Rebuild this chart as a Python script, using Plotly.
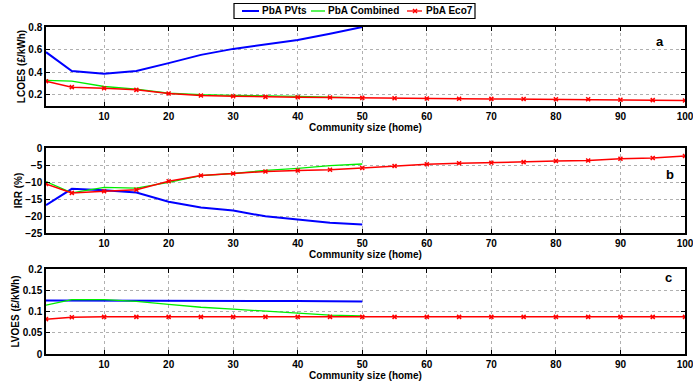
import plotly.graph_objects as go

x_short = [1, 5, 10, 15, 20, 25, 30, 35, 40, 45, 50]
x_long = [1, 5, 10, 15, 20, 25, 30, 35, 40, 45, 50, 55, 60, 65, 70, 75, 80, 85, 90, 95, 100]

# Panel a: LCOES (£/kWh)
lcoes_pvts = [0.577, 0.41, 0.386, 0.41, 0.48, 0.553, 0.606, 0.645, 0.684, 0.74, 0.80]
lcoes_comb = [0.327, 0.32, 0.273, 0.25, 0.213, 0.20, 0.195, 0.187, 0.185, 0.178, 0.172]
lcoes_eco7 = [0.32, 0.267, 0.258, 0.243, 0.211, 0.193, 0.187, 0.181, 0.178, 0.176, 0.172,
              0.169, 0.166, 0.165, 0.163, 0.162, 0.160, 0.159, 0.155, 0.152, 0.149]

# Panel b: IRR (%)
irr_pvts = [-16.8, -12.0, -12.45, -13.1, -15.8, -17.5, -18.4, -20.1, -21.0, -22.0, -22.5]
irr_comb = [-9.9, -13.2, -11.6, -11.8, -10.1, -8.1, -7.5, -6.6, -6.0, -5.2, -4.7]
irr_eco7 = [-10.6, -13.2, -12.7, -12.3, -9.8, -8.1, -7.5, -6.9, -6.6, -6.4, -5.9,
            -5.3, -4.8, -4.5, -4.35, -4.15, -3.85, -3.65, -3.16, -2.96, -2.37]

# Panel c: LVOES (£/kWh)
lvoes_pvts = [0.126, 0.126, 0.126, 0.1258, 0.1256, 0.1254, 0.1252, 0.125, 0.1245, 0.124, 0.1236]
lvoes_comb = [0.115, 0.128, 0.128, 0.1236, 0.117, 0.110, 0.1055, 0.1008, 0.0953, 0.0913, 0.0898]
lvoes_eco7 = [0.082, 0.0866, 0.0874, 0.0874, 0.0874, 0.0874, 0.0874, 0.0874, 0.0874, 0.0874, 0.0874,
              0.0874, 0.0874, 0.0874, 0.0874, 0.0874, 0.0874, 0.0874, 0.0874, 0.0874, 0.0874]

series_names = ["PbA PVts", "PbA Combined", "PbA Eco7"]
panel_labels = ["a", "b", "c"]
x_ticks = [10, 20, 30, 40, 50, 60, 70, 80, 90, 100]
ticks_a = [0.2, 0.4, 0.6, 0.8]
ticks_b = [0, -5, -10, -15, -20, -25]
ticks_c = [0, 0.05, 0.1, 0.15, 0.2]
tick_text_c = ["0", "0.05", "0.1", "0.15", "0.2"]

BLUE = "#0000ff"
GREEN = "#00ee00"
RED = "#ff0000"
COLORS = [BLUE, GREEN, RED]
FONT = "Liberation Sans, Arial, sans-serif"

W, H = 693.0, 381.0
ML, MR = 46.0, 8.0

def px_x(px):
    return (px - ML) / (W - ML - MR)

def px_y(py):
    return 1 - py / H

fig = go.Figure()

panels = [
    ("x", "y", lcoes_pvts, lcoes_comb, lcoes_eco7),
    ("x2", "y2", irr_pvts, irr_comb, irr_eco7),
    ("x3", "y3", lvoes_pvts, lvoes_comb, lvoes_eco7),
]
for i, (xa, ya, pv, cb, e7) in enumerate(panels):
    fig.add_trace(go.Scatter(x=x_short, y=pv, xaxis=xa, yaxis=ya, mode="lines",
                             line=dict(color=BLUE, width=2), name=series_names[0],
                             showlegend=False))
    fig.add_trace(go.Scatter(x=x_short, y=cb, xaxis=xa, yaxis=ya, mode="lines",
                             line=dict(color=GREEN, width=1.3), name=series_names[1],
                             showlegend=False))
    fig.add_trace(go.Scatter(x=x_long, y=e7, xaxis=xa, yaxis=ya, mode="lines+markers",
                             line=dict(color=RED, width=1.5), name=series_names[2],
                             marker=dict(symbol="x-thin", size=4, line=dict(color=RED, width=1.5)),
                             showlegend=False))

def dom(top, bottom):
    return [1 - bottom / H, 1 - top / H]

bold10 = dict(family=FONT, size=10, color="black", weight="bold")

axis_common = dict(showline=True, linecolor="black", linewidth=1.5, mirror="ticks",
                   ticks="inside", ticklen=4, tickcolor="black",
                   showgrid=True, gridcolor="#b0b0b0", griddash="dot", gridwidth=1,
                   zeroline=False, ticklabeloverflow="allow",
                   tickfont=bold10)

xaxis_common = dict(axis_common, range=[1, 100], tickvals=x_ticks,
                    title=dict(text="Community size (home)", standoff=1, font=bold10))

fig.update_layout(
    width=693, height=381,
    margin=dict(l=ML, r=MR, t=0, b=0, autoexpand=False),
    paper_bgcolor="white", plot_bgcolor="white",
    showlegend=False,
    xaxis=dict(xaxis_common, domain=[0, 1], anchor="y"),
    xaxis2=dict(xaxis_common, domain=[0, 1], anchor="y2"),
    xaxis3=dict(xaxis_common, domain=[0, 1], anchor="y3"),
    yaxis=dict(axis_common, domain=dom(27, 106), range=[0.1, 0.8], tickvals=ticks_a,
               anchor="x", title=dict(text="LCOES (£/kWh)", standoff=1, font=bold10)),
    yaxis2=dict(axis_common, domain=dom(148, 233), range=[-25, 0], tickvals=ticks_b,
                anchor="x2", title=dict(text="IRR (%)", standoff=1, font=bold10)),
    yaxis3=dict(axis_common, domain=dom(269, 354), range=[0, 0.2], tickvals=ticks_c,
                ticktext=tick_text_c, anchor="x3",
                title=dict(text="LVOES (£/kWh)", standoff=1, font=bold10)),
)

# panel letters
for lab, xa, ya, xv, yv in [(panel_labels[0], "x", "y", 96.1, 0.669),
                            (panel_labels[1], "x2", "y2", 97.7, -7.9),
                            (panel_labels[2], "x3", "y3", 97.5, 0.179)]:
    fig.add_annotation(text=lab, x=xv, y=yv, xref=xa, yref=ya, showarrow=False,
                       xanchor="center", yanchor="middle",
                       font=dict(family=FONT, size=13, color="black", weight="bold"))

# legend box (compact, like the original)
fig.add_shape(type="rect", xref="paper", yref="paper",
              x0=px_x(234), x1=px_x(475), y0=px_y(18.5), y1=px_y(3.5),
              line=dict(color="black", width=1.2), fillcolor="white", layer="above")
leg_line = [(242, 259), (311, 325), (407, 422)]
leg_text = [261, 327, 425]
ly = px_y(11)
for k in range(3):
    x0, x1 = leg_line[k]
    fig.add_shape(type="line", xref="paper", yref="paper", x0=px_x(x0), x1=px_x(x1),
                  y0=ly, y1=ly, line=dict(color=COLORS[k], width=2 if k == 0 else 1.3),
                  layer="above")
    fig.add_annotation(text=series_names[k], xref="paper", yref="paper",
                       x=px_x(leg_text[k]), y=ly, xanchor="left", yanchor="middle",
                       showarrow=False, font=bold10, xshift=-1)
# red x marker in legend
cx, cy, d = 415, 11, 2
for a, b in [(-d, -d), (-d, d)]:
    fig.add_shape(type="line", xref="paper", yref="paper",
                  x0=px_x(cx + a), x1=px_x(cx - a), y0=px_y(cy + b), y1=px_y(cy - b),
                  line=dict(color=RED, width=1.5), layer="above")

fig.write_html("out.html", config={"displayModeBar": False},
               post_script="document.body.style.margin='0';")
